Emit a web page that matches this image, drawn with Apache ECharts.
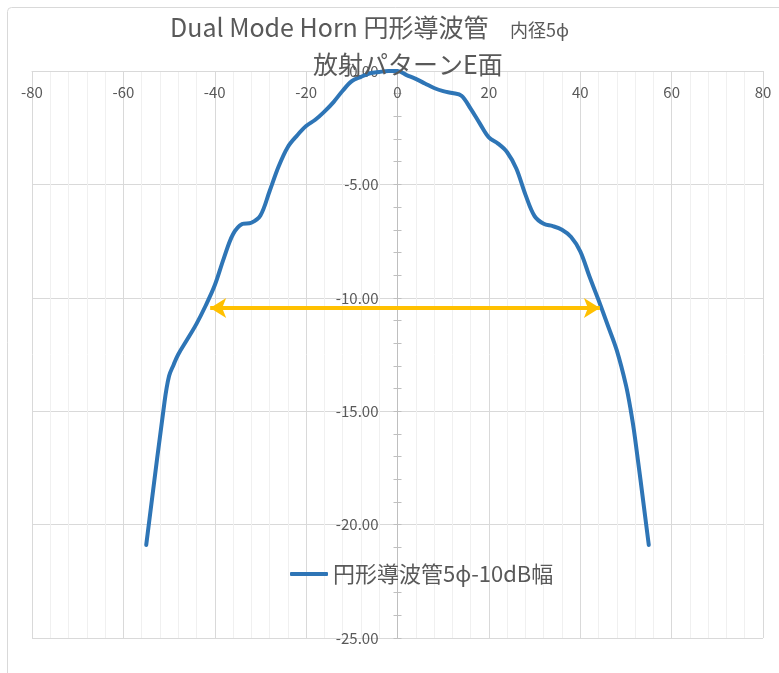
<!DOCTYPE html>
<html>
<head>
<meta charset="utf-8">
<script src="https://cdn.jsdelivr.net/npm/echarts@6/dist/echarts.min.js"></script>
<style>html,body{margin:0;padding:0;background:#fff}#c{width:779px;height:673px}</style>
</head>
<body>
<div id="c"></div>
<script>
var titleMain = 'Dual Mode Horn 円形導波管';
var titleSub = '内径5ϕ';
var titleLine2 = '放射パターンE面';
var seriesName = '円形導波管5ϕ-10dB幅';

var angles = [-55,-51,-50,-49,-48,-46,-44,-42,-40,-38,-36,-34,-32,-30,-28,-26,-24,-22,-20,-18,-16,-14,-12,-10,-8,-6,-4,-2,0,
  2,4,6,8,10,12,14,16,18,20,22,24,26,28,30,32,34,36,38,40,42,44,46,48,50,51,52,55];
var gain = [-20.9,-14.6,-13.45,-12.95,-12.5,-11.83,-11.15,-10.35,-9.45,-8.25,-7.2,-6.75,-6.69,-6.37,-5.3,-4.2,-3.35,-2.85,-2.43,-2.15,-1.79,-1.37,-0.87,-0.45,-0.26,-0.1,-0.04,0,0,
  -0.18,-0.35,-0.55,-0.75,-0.89,-0.97,-1.09,-1.66,-2.31,-2.93,-3.2,-3.58,-4.3,-5.45,-6.4,-6.74,-6.84,-7.0,-7.32,-7.95,-9.05,-10.1,-11.2,-12.32,-13.85,-14.9,-16.2,-20.9];

var arrowStart = [-41.0, -10.45];
var arrowEnd = [44.3, -10.45];

var xTicks = {min: -80, max: 80, interval: 20};
var yTicks = {min: -25, max: 0, interval: 5};

var pts = angles.map(function (a, i) { return [a, gain[i]]; });

var chart = echarts.init(document.getElementById('c'), null, {renderer: 'canvas'});
var FONT = '"Noto Sans CJK JP", "Noto Sans", sans-serif';
var TXT = '#595959';

var GRID_L = 32, GRID_R = 16;
var plotW = 779 - GRID_L - GRID_R;
var yOffset = -plotW / 2; // move the value axis onto x = 0 (centre of the symmetric x range)

var yCommon = {
  type: 'value', min: yTicks.min, max: yTicks.max, interval: yTicks.interval,
  position: 'left', offset: yOffset,
  axisLine: {show: true, onZero: false, lineStyle: {color: '#bfbfbf', width: 1}},
  minorSplitLine: {show: false}
};

chart.setOption({
  animation: false,
  textStyle: {fontFamily: FONT},
  graphic: [{
    type: 'rect', silent: true,
    shape: {x: 7.5, y: 7.5, width: 820, height: 720, r: 4},
    style: {fill: 'none', stroke: '#d9d9d9', lineWidth: 1}
  }],
  title: [
    {text: titleMain, left: 170, top: 15, padding: 0,
     textStyle: {fontSize: 25, fontWeight: 'normal', color: TXT, fontFamily: FONT}},
    {text: titleSub, left: 510, top: 21, padding: 0,
     textStyle: {fontSize: 18, fontWeight: 'normal', color: TXT, fontFamily: FONT}},
    {text: titleLine2, left: 313, top: 52, padding: 0,
     textStyle: {fontSize: 25, fontWeight: 'normal', color: TXT, fontFamily: FONT}}
  ],
  legend: {
    data: [seriesName], left: 290, top: 563, padding: 0,
    icon: 'roundRect', itemWidth: 38, itemHeight: 4,
    textStyle: {fontSize: 22, color: TXT, fontFamily: FONT}
  },
  grid: {left: GRID_L, right: GRID_R, top: 71, bottom: 35, containLabel: false, outerBoundsMode: 'none'},
  xAxis: {
    type: 'value', min: xTicks.min, max: xTicks.max, interval: xTicks.interval,
    position: 'top',
    axisLine: {show: true, onZero: false, lineStyle: {color: '#d9d9d9'}},
    axisTick: {show: false},
    axisLabel: {inside: true, fontSize: 15, color: TXT, margin: 14, fontFamily: FONT},
    splitLine: {show: true, lineStyle: {color: '#d9d9d9', width: 1}},
    minorTick: {show: false, splitNumber: 5},
    minorSplitLine: {show: true, lineStyle: {color: '#f0f0f0', width: 1}}
  },
  yAxis: [
    Object.assign({}, yCommon, {
      axisTick: {show: true, inside: false, length: 4, lineStyle: {color: '#bfbfbf'}},
      minorTick: {show: true, splitNumber: 5, length: 4, lineStyle: {color: '#bfbfbf'}},
      axisLabel: {fontSize: 15, color: TXT, margin: 19, fontFamily: FONT,
        formatter: function (v) { return v.toFixed(2); }},
      splitLine: {show: true, lineStyle: {color: '#d9d9d9', width: 1}}
    }),
    Object.assign({}, yCommon, {
      axisTick: {show: true, inside: true, length: 4, lineStyle: {color: '#bfbfbf'}},
      minorTick: {show: true, splitNumber: 5, length: 4, lineStyle: {color: '#bfbfbf'}},
      axisLabel: {show: false},
      splitLine: {show: false}
    })
  ],
  series: [{
    name: seriesName, type: 'line', yAxisIndex: 0,
    data: pts, smooth: 0.35, showSymbol: false, symbol: 'none',
    itemStyle: {color: '#2E75B6'},
    lineStyle: {color: '#2E75B6', width: 4, cap: 'round', join: 'round'},
    z: 3,
    markLine: {
      silent: true, animation: false,
      symbol: ['arrow', 'arrow'], symbolSize: [15, 16],
      label: {show: false},
      lineStyle: {color: '#FFC000', width: 4, type: 'solid'},
      emphasis: {disabled: true},
      data: [[{coord: arrowStart}, {coord: arrowEnd}]]
    }
  }]
});
</script>
</body>
</html>
